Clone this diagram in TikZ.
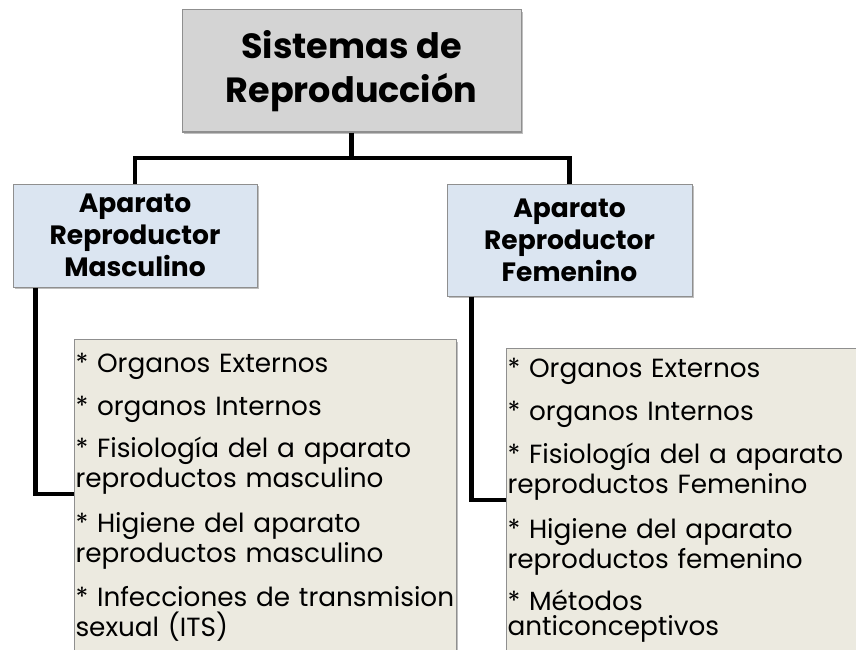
\documentclass[tikz,border=0pt]{standalone}
\usepackage{fontspec}
\setmainfont{Poppins}
\usetikzlibrary{shadows}
\definecolor{topfill}{HTML}{D4D4D4}
\definecolor{midfill}{HTML}{DBE5F1}
\definecolor{listfill}{HTML}{ECEAE0}
\definecolor{edge}{HTML}{8F8F8F}
\tikzset{
  sh/.style={drop shadow={shadow xshift=1.5pt,shadow yshift=-2pt,opacity=0.25,fill=black}},
  topbox/.style={draw=edge,line width=1pt,fill=topfill,sh,minimum width=339pt,minimum height=122pt,align=center,inner sep=0pt,
    font=\fontsize{35}{44}\selectfont\bfseries},
  midbox/.style={draw=edge,line width=1pt,fill=midfill,sh,minimum width=244pt,align=center,inner sep=0pt,
    font=\fontsize{26.5}{32}\selectfont\bfseries},
  listbox/.style={draw=edge,line width=1pt,fill=listfill,sh,anchor=north west,align=left,inner xsep=1pt,inner ysep=0pt,
    font=\fontsize{26.3}{30}\selectfont},
  conn/.style={line width=4.5pt,black,line cap=butt,line join=miter},
}
\begin{document}
\begin{tikzpicture}[x=1pt,y=-1pt]
\useasboundingbox (0,0) rectangle (856,650);
\coordinate (bar) at (0,158);
\coordinate (lel) at (0,494);
\coordinate (rel) at (0,500);
\node[topbox] (t) at (351.5,71) {Sistemas de\\Reproducción};
\node[midbox,minimum height=103pt] (m) at (135,235.5) {Aparato\\Reproductor\\Masculino};
\node[midbox,minimum width=245pt,minimum height=112pt] (f) at (569.5,240) {Aparato\\Reproductor\\Femenino};
\coordinate (mdrop) at ([xshift=23pt]m.south west);
\coordinate (fdrop) at ([xshift=25pt]f.south west);
\draw[conn] (t.south) -- (t.south |- bar);
\draw[conn] (m.north) |- (f.north |- bar) -- (f.north);
\node[listbox,text width=380pt] (lm) at (74,339) {\rule{0pt}{33pt}* Organos Externos\\[13pt]
* organos Internos\\[12pt]
* Fisiología del a aparato\\reproductos masculino\\[15pt]
* Higiene del aparato\\reproductos masculino\\[14pt]
* Infecciones de transmision\\sexual (ITS)\\[40pt]\mbox{}};
\node[listbox,text width=360pt] (lf) at (506,348) {\rule{0pt}{29pt}* Organos Externos\\[13pt]
* organos Internos\\[13pt]
* Fisiología del a aparato\\reproductos Femenino\\[15pt]
* Higiene del aparato\\reproductos femenino\\[12pt]
* Métodos\\[-5pt]anticonceptivos\\[40pt]\mbox{}};
\draw[conn] (mdrop) |- (lm.west |- lel);
\draw[conn] (fdrop) |- (lf.west |- rel);
\end{tikzpicture}
\end{document}
